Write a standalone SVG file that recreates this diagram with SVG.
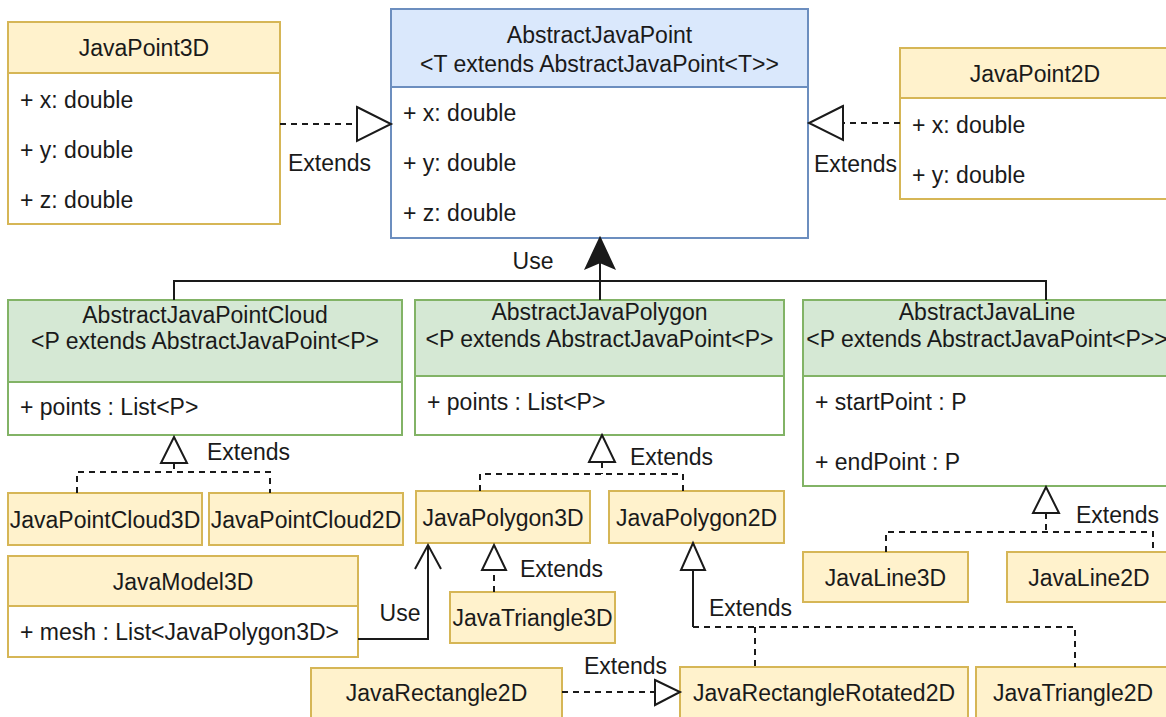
<svg xmlns="http://www.w3.org/2000/svg" width="1166" height="717" viewBox="0 0 1166 717">
<style>
text{font-family:"Liberation Sans",Arial,sans-serif;font-size:23px;fill:#1a1a1a;dominant-baseline:central}
.c{text-anchor:middle}
.y{fill:#fff2cc;stroke:#d6b656;stroke-width:2}
.b{fill:#dae8fc;stroke:#6c8ebf;stroke-width:2}
.g{fill:#d5e8d4;stroke:#82b366;stroke-width:2}
.wy{fill:#ffffff;stroke:#d6b656;stroke-width:2}
.wb{fill:#ffffff;stroke:#6c8ebf;stroke-width:2}
.wg{fill:#ffffff;stroke:#82b366;stroke-width:2}
.e{fill:none;stroke:#1a1a1a;stroke-width:2}
.d{fill:none;stroke:#1a1a1a;stroke-width:2;stroke-dasharray:6 5}
.t{fill:#ffffff;stroke:#1a1a1a;stroke-width:2}
</style>
<rect width="1166" height="717" fill="#ffffff"/>
<g id="JavaPoint3D">
<rect class="wy" x="8" y="22" width="272" height="202"/>
<rect class="y" x="8" y="22" width="272" height="51"/>
<text class="c" x="144" y="48">JavaPoint3D</text>
<text x="20" y="100">+ x: double</text>
<text x="20" y="150">+ y: double</text>
<text x="20" y="200">+ z: double</text>
</g>
<g id="AbstractJavaPoint">
<rect class="wb" x="391" y="9" width="417" height="229"/>
<rect class="b" x="391" y="9" width="417" height="78"/>
<text class="c" x="599.5" y="35">AbstractJavaPoint</text>
<text class="c" x="599.5" y="64">&lt;T extends AbstractJavaPoint&lt;T&gt;&gt;</text>
<text x="403" y="113">+ x: double</text>
<text x="403" y="163">+ y: double</text>
<text x="403" y="213">+ z: double</text>
</g>
<g id="JavaPoint2D">
<rect class="wy" x="900" y="48" width="270" height="151"/>
<rect class="y" x="900" y="48" width="270" height="50"/>
<text class="c" x="1035" y="74">JavaPoint2D</text>
<text x="912" y="125">+ x: double</text>
<text x="912" y="175">+ y: double</text>
</g>
<g id="AbstractJavaPointCloud">
<rect class="wg" x="8" y="300" width="394" height="135"/>
<rect class="g" x="8" y="300" width="394" height="82"/>
<text class="c" x="205" y="315">AbstractJavaPointCloud</text>
<text class="c" x="205" y="341">&lt;P extends AbstractJavaPoint&lt;P&gt;</text>
<text x="20" y="407">+ points : List&lt;P&gt;</text>
</g>
<g id="AbstractJavaPolygon">
<rect class="wg" x="415" y="300" width="369" height="135"/>
<rect class="g" x="415" y="300" width="369" height="76"/>
<text class="c" x="599.5" y="312">AbstractJavaPolygon</text>
<text class="c" x="599.5" y="339">&lt;P extends AbstractJavaPoint&lt;P&gt;</text>
<text x="427" y="402">+ points : List&lt;P&gt;</text>
</g>
<g id="AbstractJavaLine">
<rect class="wg" x="803" y="300" width="368" height="186"/>
<rect class="g" x="803" y="300" width="368" height="76"/>
<text class="c" x="987" y="312">AbstractJavaLine</text>
<text class="c" x="987" y="339">&lt;P extends AbstractJavaPoint&lt;P&gt;&gt;</text>
<text x="815" y="402">+ startPoint : P</text>
<text x="815" y="462">+ endPoint : P</text>
</g>
<g id="JavaPointCloud3D">
<rect class="y" x="8" y="493" width="194" height="52"/>
<text class="c" x="105" y="520">JavaPointCloud3D</text>
</g>
<g id="JavaPointCloud2D">
<rect class="y" x="209" y="493" width="194" height="52"/>
<text class="c" x="306" y="520">JavaPointCloud2D</text>
</g>
<g id="JavaPolygon3D">
<rect class="y" x="416" y="491" width="174" height="52"/>
<text class="c" x="503" y="518">JavaPolygon3D</text>
</g>
<g id="JavaPolygon2D">
<rect class="y" x="609" y="491" width="175" height="52"/>
<text class="c" x="696.5" y="518">JavaPolygon2D</text>
</g>
<g id="JavaLine3D">
<rect class="y" x="803" y="552" width="165" height="50"/>
<text class="c" x="885.5" y="578">JavaLine3D</text>
</g>
<g id="JavaLine2D">
<rect class="y" x="1007" y="552" width="165" height="50"/>
<text class="c" x="1089" y="578">JavaLine2D</text>
</g>
<g id="JavaModel3D">
<rect class="wy" x="8" y="556" width="350" height="101"/>
<rect class="y" x="8" y="556" width="350" height="50"/>
<text class="c" x="183" y="582">JavaModel3D</text>
<text x="20" y="632">+ mesh : List&lt;JavaPolygon3D&gt;</text>
</g>
<g id="JavaTriangle3D">
<rect class="y" x="450" y="592" width="165" height="51"/>
<text class="c" x="532.5" y="618">JavaTriangle3D</text>
</g>
<g id="JavaRectangle2D">
<rect class="y" x="311" y="668" width="251" height="60"/>
<text class="c" x="436.5" y="693">JavaRectangle2D</text>
</g>
<g id="JavaRectangleRotated2D">
<rect class="y" x="680" y="667" width="288" height="60"/>
<text class="c" x="824" y="693">JavaRectangleRotated2D</text>
</g>
<g id="JavaTriangle2D">
<rect class="y" x="976" y="667" width="200" height="60"/>
<text class="c" x="1073" y="693">JavaTriangle2D</text>
</g>
<g id="connectors">
<path class="d" d="M280 124H357"/>
<path class="t" d="M357 107L391 124L357 141Z"/>
<text x="288" y="163">Extends</text>
<path class="d" d="M900 123H843"/>
<path class="t" d="M843 106L809 123L843 140Z"/>
<text x="814" y="164">Extends</text>
<path class="e" d="M174 300V281H1046V300M600 300V262"/>
<path d="M600 238L614 268L600 262L586 268Z" fill="#1a1a1a" stroke="#1a1a1a" stroke-width="2"/>
<text class="c" x="533" y="261">Use</text>
<path class="d" d="M174 463V472M77 493V472H270V493"/>
<path class="t" d="M174 437L187 463H161Z"/>
<text x="207" y="452">Extends</text>
<path class="d" d="M602 462V474M480 491V474H683V491"/>
<path class="t" d="M602 435L615 462H589Z"/>
<text x="630" y="457">Extends</text>
<path class="d" d="M1046 513V532M886 552V532H1153V552"/>
<path class="t" d="M1046 487L1059 513H1033Z"/>
<text x="1076" y="515">Extends</text>
<path class="e" d="M358 639H428V545M415 569L428 545L441 569"/>
<text class="c" x="400" y="613">Use</text>
<path class="d" d="M494 592V570"/>
<path class="t" d="M494 545L506 570H482Z"/>
<text x="520" y="569">Extends</text>
<path class="e" d="M693 570V627"/>
<path class="d" d="M693 627H1075V667M755 627V667"/>
<path class="t" d="M693 543L705 570H681Z"/>
<text x="709" y="608">Extends</text>
<path class="d" d="M562 692H655"/>
<path class="t" d="M655 680L680 692L655 705Z"/>
<text x="584" y="666">Extends</text>
</g>
</svg>
